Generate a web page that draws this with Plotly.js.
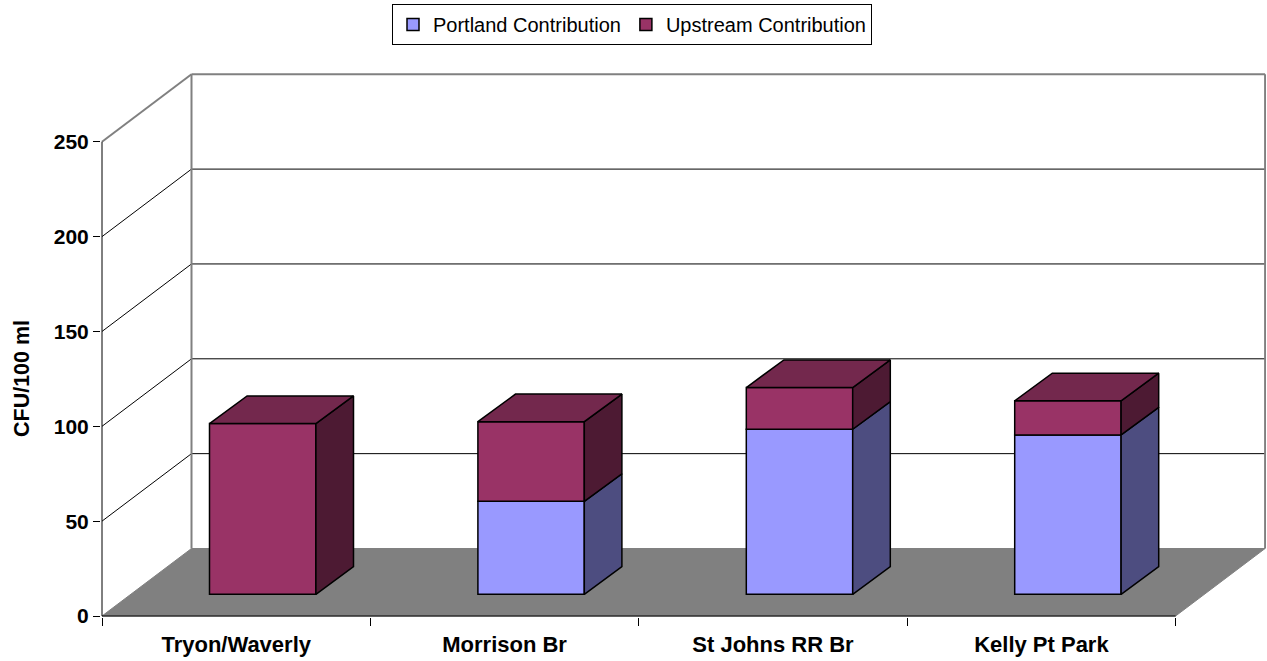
<!DOCTYPE html>
<html>
<head>
<meta charset="utf-8">
<script src="https://cdn.plot.ly/plotly-3.0.1.min.js"></script>
<style>html,body{margin:0;padding:0;background:#fff;}#chart{width:1267px;height:661px;}</style>
</head>
<body>
<div id="chart"></div>
<script>
// ---- data ----
const categories = ['Tryon/Waverly', 'Morrison Br', 'St Johns RR Br', 'Kelly Pt Park'];
const portland = [0, 49, 87, 84];
const upstream = [90, 42, 22, 18];
const seriesNames = ['Portland Contribution', 'Upstream Contribution'];
const yTicks = [0, 50, 100, 150, 200, 250];
const yTitle = 'CFU/100 ml';

// ---- geometry / styling ----
const W = 1267, H = 661;
const M = {l: 101, r: 1, t: 60, b: 44};
const PX = 268.4;   // px per category
const PY = 1.897;   // px per unit
const plotW = W - M.l - M.r, plotH = H - M.t - M.b;
const xmin = -0.5 - 1 / PX, ymin = -1 / PY;
const xr = [xmin, xmin + plotW / PX];
const yr = [ymin, ymin + plotH / PY];
// depth offsets (oblique projection)
const dxW = 89.5 / PX, dyW = 67.5 / PY;          // back wall
const dxF = 26.5 / PX, dyF = 21.7 / PY;          // bar front face
const dxB = 64.1 / PX, dyB = 49.3 / PY;          // bar back face
const barW = 106.4 / PX;
const ddx = dxB - dxF, ddy = dyB - dyF;
const yMaxTick = yTicks[yTicks.length - 1];
const xL = -0.5, xR = categories.length - 0.5;

const FONT = 'Liberation Sans, Arial, sans-serif';
const colFront = ['#9999FF', '#993366'];
const colSide = ['#4D4D80', '#4D1A33'];
const colTop = ['#66669F', '#73284D'];
const edge = {color: '#000', width: 1.5};

const xs = categories.map((c, i) => i);
const xFront = xs.map(i => i + dxF);
const series = [portland, upstream];

const traces = [];
// front faces via bars
series.forEach((vals, s) => {
  const base = vals.map((v, i) => {
    let b = dyF;
    for (let k = 0; k < s; k++) b += series[k][i];
    return b;
  });
  traces.push({
    type: 'bar', name: seriesNames[s], x: xFront, y: vals, base: base,
    width: barW, marker: {color: colFront[s], line: edge},
    hoverinfo: 'skip'
  });
});
// side and top faces
xs.forEach(i => {
  let cum = 0;
  const total = series.reduce((a, sv) => a + sv[i], 0);
  series.forEach((vals, s) => {
    const v = vals[i];
    if (v > 0) {
      const x0 = i + dxF + barW / 2;
      const yb = dyF + cum, yt = dyF + cum + v;
      traces.push({
        type: 'scatter', mode: 'lines', fill: 'toself', fillcolor: colSide[s],
        x: [x0, x0 + ddx, x0 + ddx, x0, x0], y: [yb, yb + ddy, yt + ddy, yt, yb],
        line: edge, showlegend: false, hoverinfo: 'skip'
      });
    }
    cum += v;
  });
  let topS = 0;
  series.forEach((vals, s) => { if (vals[i] > 0) topS = s; });
  const xa = i + dxF - barW / 2, xb = i + dxF + barW / 2, yt = dyF + total;
  traces.push({
    type: 'scatter', mode: 'lines', fill: 'toself', fillcolor: colTop[topS],
    x: [xa, xb, xb + ddx, xa + ddx, xa], y: [yt, yt, yt + ddy, yt + ddy, yt],
    line: edge, showlegend: false, hoverinfo: 'skip'
  });
});

// walls, floor, gridlines
const shapes = [];
const gray = '#808080';
shapes.push({type: 'path', xref: 'x', yref: 'y', layer: 'below',
  path: `M${xL},0 L${xR},0 L${xR + dxW},${dyW} L${xL + dxW},${dyW} Z`,
  fillcolor: gray, line: {color: gray, width: 1}});
yTicks.forEach(v => {
  if (v === 0) return;
  const top = v === yMaxTick;
  const ln = top ? {color: gray, width: 2} : {color: '#000', width: 1};
  shapes.push({type: 'line', xref: 'x', yref: 'y', layer: 'below',
    x0: xL + dxW, y0: v + dyW, x1: xR + dxW, y1: v + dyW, line: ln});
  shapes.push({type: 'line', xref: 'x', yref: 'y', layer: 'below',
    x0: xL, y0: v, x1: xL + dxW, y1: v + dyW, line: ln});
});
shapes.push({type: 'line', xref: 'x', yref: 'y', layer: 'below',
  x0: xL + dxW, y0: dyW, x1: xL + dxW, y1: yMaxTick + dyW, line: {color: gray, width: 2}});
shapes.push({type: 'line', xref: 'x', yref: 'y', layer: 'below',
  x0: xR + dxW, y0: dyW, x1: xR + dxW, y1: yMaxTick + dyW, line: {color: gray, width: 2}});
// front axes
shapes.push({type: 'line', xref: 'x', yref: 'y', layer: 'above',
  x0: xL, y0: 0, x1: xL, y1: yMaxTick, line: {color: '#000', width: 1}});
shapes.push({type: 'line', xref: 'x', yref: 'y', layer: 'above',
  x0: xL, y0: 0, x1: xR, y1: 0, line: {color: '#000', width: 1}});

const boundaries = [];
for (let k = 0; k <= categories.length; k++) boundaries.push(k - 0.5);

const layout = {
  width: W, height: H, margin: {l: M.l, r: M.r, t: M.t, b: M.b, pad: 0},
  paper_bgcolor: '#fff', plot_bgcolor: 'rgba(0,0,0,0)',
  font: {family: FONT, color: '#000'},
  barmode: 'overlay', hovermode: false, showlegend: true,
  xaxis: {
    range: xr, showgrid: false, zeroline: false, showline: false,
    tickmode: 'array', tickvals: xs, ticktext: categories,
    ticks: 'outside', ticklen: 8, tickcolor: 'rgba(0,0,0,0)', ticklabelstandoff: 0,
    tickfont: {family: FONT, size: 22, weight: 700, color: '#000'},
    minor: {tickmode: 'array', tickvals: boundaries, ticks: 'outside', ticklen: 8, tickcolor: '#000', tickwidth: 1, showgrid: false},
    fixedrange: true
  },
  yaxis: {
    range: yr, showgrid: false, zeroline: false, showline: false,
    tickmode: 'array', tickvals: yTicks, ticktext: yTicks.map(String),
    ticks: 'outside', ticklen: 7, tickcolor: '#000', tickwidth: 1,
    tickfont: {family: FONT, size: 21, weight: 700, color: '#000'},
    fixedrange: true
  },
  legend: {
    orientation: 'h', x: (632 - M.l) / plotW, xanchor: 'center',
    y: 1 + (M.t - 4) / plotH, yanchor: 'top',
    bordercolor: '#000', borderwidth: 1, bgcolor: '#fff',
    font: {family: FONT, size: 20, color: '#000'}, traceorder: 'normal'
  },
  annotations: [{
    text: yTitle, textangle: -90, showarrow: false,
    xref: 'paper', yref: 'paper', x: (22 - M.l) / plotW, y: (H - M.b - 379) / plotH,
    xanchor: 'center', yanchor: 'middle',
    font: {family: FONT, size: 21.5, weight: 700, color: '#000'}
  }],
  shapes: shapes
};

Plotly.newPlot('chart', traces, layout, {displayModeBar: false, staticPlot: true});
</script>
</body>
</html>
